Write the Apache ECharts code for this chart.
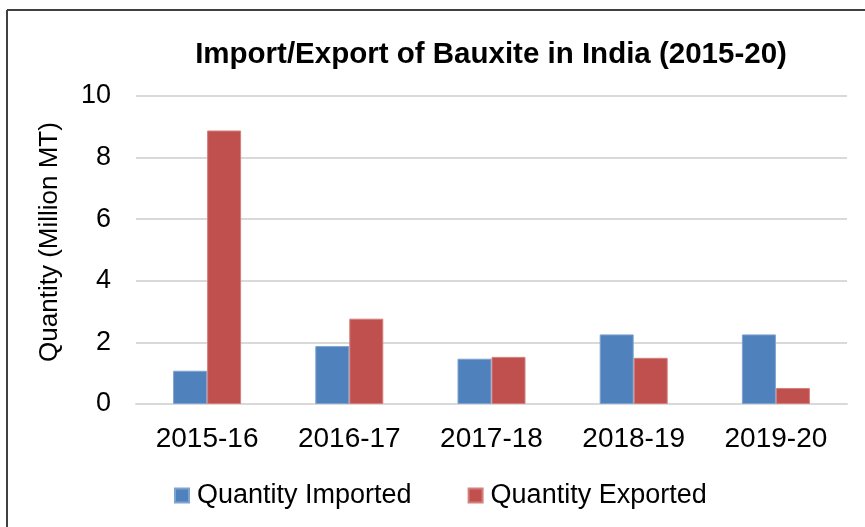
<!DOCTYPE html>
<html>
<head>
<meta charset="utf-8">
<script src="https://cdn.jsdelivr.net/npm/echarts@6/dist/echarts.min.js"></script>
<style>
html,body{margin:0;padding:0;background:#fff;}
#main{width:865px;height:527px;}
</style>
</head>
<body>
<div id="main"></div>
<script>
const categories = ['2015-16', '2016-17', '2017-18', '2018-19', '2019-20'];
const imported = [1.08, 1.88, 1.47, 2.26, 2.26];
const exported = [8.88, 2.77, 1.53, 1.50, 0.52];
const yTicks = { min: 0, max: 10, interval: 2 };

const chart = echarts.init(document.getElementById('main'));
const font = '"Liberation Sans", Arial, sans-serif';
chart.setOption({
  animation: false,
  graphic: [
    { type: 'line', shape: { x1: 7, y1: 10, x2: 865, y2: 10 }, style: { stroke: '#404040', lineWidth: 2 } },
    { type: 'line', shape: { x1: 7, y1: 10, x2: 7, y2: 527 }, style: { stroke: '#404040', lineWidth: 2 } }
  ],
  title: {
    text: 'Import/Export of Bauxite in India (2015-20)',
    left: 486, textAlign: 'center', top: 35,
    textStyle: { fontFamily: font, fontSize: 29.5, fontWeight: 'bold', color: '#000' }
  },
  legend: {
    top: 477, left: 169,
    itemWidth: 14, itemHeight: 14, itemGap: 56,
    icon: 'rect',
    textStyle: { fontFamily: font, fontSize: 27, color: '#000', padding: [0, 0, 0, 3] }
  },
  grid: { left: 136, right: 18, top: 96, bottom: 123, containLabel: false },
  xAxis: {
    type: 'category', data: categories,
    axisLine: { show: true, lineStyle: { color: '#d9d9d9', width: 2 } },
    axisTick: { show: false },
    axisLabel: { margin: 21, fontFamily: font, fontSize: 28, color: '#000' }
  },
  yAxis: {
    type: 'value', min: yTicks.min, max: yTicks.max, interval: yTicks.interval,
    name: 'Quantity (Million MT)', nameLocation: 'middle', nameGap: 73,
    nameTextStyle: { fontFamily: font, fontSize: 26, color: '#000', padding: [0, 0, 0, 16] },
    axisLine: { show: false }, axisTick: { show: false },
    splitLine: { lineStyle: { color: '#d9d9d9', width: 2 } },
    axisLabel: { margin: 25, fontFamily: font, fontSize: 27, color: '#000' }
  },
  series: [
    { name: 'Quantity Imported', type: 'bar', data: imported, barWidth: 34, barGap: '0%',
      itemStyle: { color: '#4f81bd', borderColor: '#7fa3d0', borderWidth: 1 } },
    { name: 'Quantity Exported', type: 'bar', data: exported, barWidth: 34,
      itemStyle: { color: '#c0504d', borderColor: '#d37f7c', borderWidth: 1 } }
  ]
});
</script>
</body>
</html>
